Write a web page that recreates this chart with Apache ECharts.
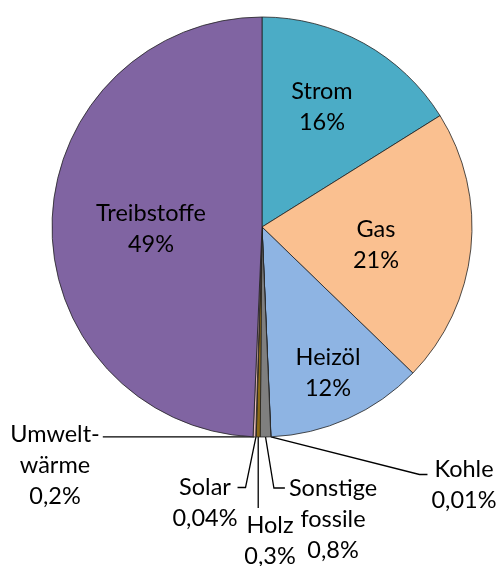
<!DOCTYPE html>
<html>
<head>
<meta charset="utf-8">
<script src="https://cdn.jsdelivr.net/npm/echarts@6/dist/echarts.min.js"></script>
<style>
html,body{margin:0;padding:0;background:#fff;}
#chart{width:499px;height:566px;}
</style>
</head>
<body>
<div id="chart"></div>
<script>
// Data
const categories = ['Strom', 'Gas', 'Heizöl', 'Kohle', 'Sonstige fossile', 'Holz', 'Solar', 'Umweltwärme', 'Treibstoffe'];
const labelNames = ['Strom', 'Gas', 'Heizöl', 'Kohle', 'Sonstige\nfossile', 'Holz', 'Solar', 'Umwelt-\nwärme', 'Treibstoffe'];
const shares = [16, 21, 12, 0.01, 0.8, 0.3, 0.04, 0.2, 49];

// Styling / layout (not data)
const colors = ['#4BACC6', '#FAC090', '#8EB4E3', '#3a3a3a', '#7F7F7F', '#8C6A18', '#F79646', '#E6B9B8', '#8064A2'];
const labelCenters = [
  [322, 107], [376, 245], [328, 373], [464, 485], [333, 519],
  [270, 541], [205, 503], [55, 465], [151, 229]
];
const outsideIdx = [3, 4, 5, 6, 7];
const LH = 31;

const chart = echarts.init(document.getElementById('chart'), null, {renderer: 'canvas'});

const data = categories.map((c, i) => ({
  name: c,
  value: shares[i],
  itemStyle: {color: colors[i]},
  labelLine: {show: outsideIdx.indexOf(i) >= 0, lineStyle: {color: '#000', width: 1.3}}
}));

function fmt(v) { return String(v).replace('.', ','); }

chart.setOption({
  animation: false,
  backgroundColor: '#fff',
  series: [{
    type: 'pie',
    center: [262, 227],
    radius: 210,
    startAngle: 90,
    clockwise: true,
    avoidLabelOverlap: false,
    itemStyle: {borderColor: '#222', borderWidth: 0.8},
    data: data,
    label: {
      show: true,
      position: 'outside',
      formatter: p => labelNames[p.dataIndex] + '\n' + fmt(p.value) + '%',
      fontFamily: 'Lato',
      fontSize: 23.5,
      lineHeight: LH,
      color: '#000',
      align: 'center'
    },
    labelLine: {show: true, length: 10, length2: 10},
    labelLayout: function (params) {
      const i = params.dataIndex;
      const c = labelCenters[i];
      const w = params.labelRect.width;
      const h = params.labelRect.height;
      const res = {x: c[0], y: c[1], align: 'center', verticalAlign: 'middle'};
      const pts = params.labelLinePoints;
      if (outsideIdx.indexOf(i) >= 0 && pts) {
        const p0 = pts[0];
        const top = c[1] - h / 2;
        const y1 = top + LH / 2;
        const left = c[0] - w / 2;
        const right = c[0] + w / 2;
        if (i === 7) {
          res.labelLinePoints = [p0, [right + 3, p0[1]]];
        } else if (i === 6) {
          res.labelLinePoints = [p0, [right + 8, y1], [right, y1]];
        } else if (i === 5) {
          res.labelLinePoints = [p0, [p0[0], top - 2]];
        } else if (i === 4) {
          res.labelLinePoints = [p0, [left - 15, y1], [left - 4, y1]];
        } else if (i === 3) {
          res.labelLinePoints = [p0, [left - 12, y1 + 5], [left - 4, y1 + 5]];
        }
      }
      return res;
    }
  }]
});
</script>
</body>
</html>
